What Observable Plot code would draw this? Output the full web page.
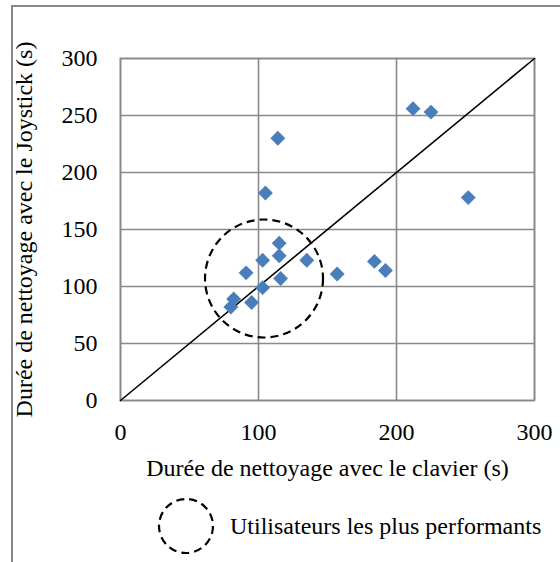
<!DOCTYPE html>
<html>
<head>
<meta charset="utf-8">
<script src="https://cdn.jsdelivr.net/npm/d3@7"></script>
<script src="https://cdn.jsdelivr.net/npm/@observablehq/plot@0.6"></script>
<style>
  html, body { margin: 0; padding: 0; background: #fff; }
  #wrap { position: relative; width: 560px; height: 562px; overflow: hidden; font-family: "Liberation Serif", "Times New Roman", serif; }
  #border { position: absolute; left: 11px; top: 5px; right: -10px; bottom: -10px; border-left: 2px solid #888; border-top: 2px solid #888; }
  #chart { position: absolute; left: 0; top: 0; }
  #chart svg text { font-family: "Liberation Serif", "Times New Roman", serif; }
  #legend { position: absolute; left: 156px; top: 496px; display: flex; align-items: center; font-size: 24px; color: #000; white-space: nowrap; }
  #legend svg { margin-right: 14px; }
</style>
</head>
<body>
<div id="wrap">
  <div id="border"></div>
  <div id="chart"></div>
  <div id="legend"></div>
</div>
<script>
// Data
const clavier  = [212, 225, 114, 105, 252, 115, 103, 115, 135, 91, 157, 184, 192, 116, 103, 82, 80, 95];
const joystick = [256, 253, 230, 182, 178, 138, 123, 127, 123, 112, 111, 122, 114, 107, 99, 89, 82, 86];
const xTicks = [0, 100, 200, 300];
const yTicks = [0, 50, 100, 150, 200, 250, 300];
const diagonal = [0, 300];
const circleCenterX = [104];
const circleCenterY = [107];
const xLabel = "Durée de nettoyage avec le clavier (s)";
const yLabel = "Durée de nettoyage avec le Joystick (s)";
const legendLabel = "Utilisateurs les plus performants";

const points = clavier.map((c, i) => ({c, j: joystick[i]}));
const zone = circleCenterX.map((x, i) => ({x, y: circleCenterY[i]}));

const serif = '"Liberation Serif", "Times New Roman", serif';
const grey = "#898989";
const chart = Plot.plot({
  width: 560,
  height: 490,
  marginTop: 58,
  marginLeft: 120,
  marginRight: 26,
  marginBottom: 90,
  style: {fontFamily: serif, fontSize: "24px", color: "#000", background: "transparent"},
  x: {domain: [0, 300]},
  y: {domain: [0, 300]},
  marks: [
    Plot.gridX(xTicks, {stroke: grey, strokeOpacity: 1, strokeWidth: 1.6}),
    Plot.gridY(yTicks, {stroke: grey, strokeOpacity: 1, strokeWidth: 1.6}),
    Plot.frame({stroke: grey, strokeWidth: 1.6}),
    Plot.axisX({ticks: xTicks, tickSize: 0, tickPadding: 22, label: xLabel, labelAnchor: "center", labelOffset: 75, labelArrow: "none", fontSize: 24, fontFamily: serif}),
    Plot.axisY({ticks: yTicks, tickSize: 0, tickPadding: 23, label: yLabel, labelAnchor: "center", labelOffset: 106, labelArrow: "none", fontSize: 24, fontFamily: serif}),
    Plot.line(diagonal, {x: d => d, y: d => d, stroke: "#000", strokeWidth: 1.6}),
    Plot.dot(zone, {x: "x", y: "y", r: 59, stroke: "#000", strokeWidth: 2.2, strokeDasharray: "8,5", fill: "none"}),
    Plot.dot(points, {x: "c", y: "j", symbol: "diamond2", r: 6.7, fill: "#4a7ebb", stroke: "none"})
  ]
});
document.getElementById("chart").appendChild(chart);

// Legend
const legend = document.getElementById("legend");
const ns = "http://www.w3.org/2000/svg";
const sv = document.createElementNS(ns, "svg");
sv.setAttribute("width", 60);
sv.setAttribute("height", 60);
const circ = document.createElementNS(ns, "circle");
circ.setAttribute("cx", 30); circ.setAttribute("cy", 30); circ.setAttribute("r", 27);
circ.setAttribute("fill", "none"); circ.setAttribute("stroke", "#000");
circ.setAttribute("stroke-width", 2.2); circ.setAttribute("stroke-dasharray", "8,5");
sv.appendChild(circ);
legend.appendChild(sv);
const span = document.createElement("span");
span.textContent = legendLabel;
legend.appendChild(span);
</script>
</body>
</html>
